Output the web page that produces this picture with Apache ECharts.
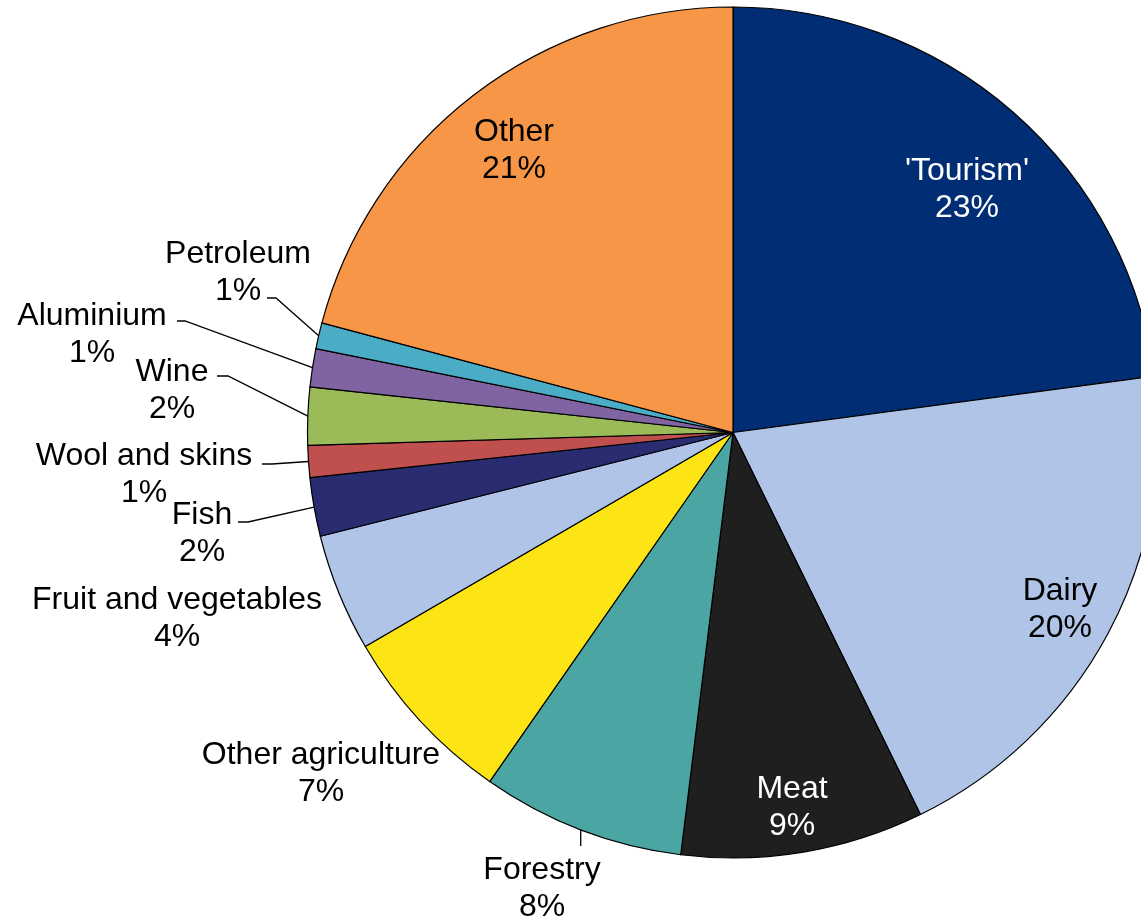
<!DOCTYPE html>
<html>
<head>
<meta charset="utf-8">
<script src="https://cdn.jsdelivr.net/npm/echarts@6/dist/echarts.min.js"></script>
<style>
html,body{margin:0;padding:0;background:#ffffff;}
#chart{width:1141px;height:920px;}
</style>
</head>
<body>
<div id="chart"></div>
<script>
// ---- data ----
const categories = ["'Tourism'", "Dairy", "Meat", "Forestry", "Other agriculture",
  "Fruit and vegetables", "Fish", "Wool and skins", "Wine", "Aluminium", "Petroleum", "Other"];
const shares = [22.88, 19.86, 9.22, 7.73, 6.92, 4.47, 2.23, 1.21, 2.19, 1.45, 0.99, 20.85];

// ---- styles ----
const sliceColors = ['#002D74', '#AFC4E7', '#1F1F1F', '#4BA5A3', '#FDE415',
  '#AFC4E7', '#292C71', '#C0504E', '#9BBB59', '#8064A2', '#4BACC6', '#F79646'];
const labelColors = ['#ffffff', '#000000', '#ffffff', '#000000', '#000000',
  '#000000', '#000000', '#000000', '#000000', '#000000', '#000000', '#000000'];
const insideLabel = [true, true, true, false, false, false, false, false, false, false, false, true];
const showLeader = [false, false, false, true, false, false, true, true, true, true, true, false];

// ---- layout (label text centres and leader-line bends, in px) ----
const CX = 733, CY = 432.5, R = 425.5;
const labelPlacement = [
  {x: 967, y: 190},
  {x: 1060, y: 610},
  {x: 792, y: 808},
  {x: 542, y: 889, vline: 846},
  {x: 321, y: 774},
  {x: 177, y: 619},
  {x: 202, y: 534, line: [[248, 522], [238, 522]]},
  {x: 144, y: 475, line: [[272, 464], [262, 464]]},
  {x: 172, y: 391, line: [[228, 376], [217, 376]]},
  {x: 92, y: 335, line: [[185, 321], [177, 321]]},
  {x: 238, y: 273, line: [[276, 298], [267, 298]]},
  {x: 514, y: 151}
];

const total = shares.reduce((a, b) => a + b, 0);
function edgePoint(i) {
  let cum = 0;
  for (let k = 0; k < i; k++) cum += shares[k];
  const mid = (cum + shares[i] / 2) / total * 2 * Math.PI;
  return [CX + R * Math.sin(mid), CY - R * Math.cos(mid)];
}

const FONT = "'Liberation Sans', Arial, Helvetica, sans-serif";

const pieData = categories.map((name, i) => ({
  name: name,
  value: shares[i],
  itemStyle: {color: sliceColors[i]},
  label: {
    position: insideLabel[i] ? 'inside' : 'outside',
    color: labelColors[i]
  },
  labelLine: {show: showLeader[i]}
}));

const chart = echarts.init(document.getElementById('chart'), null, {renderer: 'canvas'});
chart.setOption({
  animation: false,
  backgroundColor: '#ffffff',
  series: [{
    type: 'pie',
    center: [CX, CY],
    radius: R,
    startAngle: 90,
    clockwise: true,
    avoidLabelOverlap: false,
    silent: true,
    emphasis: {disabled: true},
    itemStyle: {borderColor: '#000000', borderWidth: 1.2},
    label: {
      show: true,
      fontFamily: FONT,
      fontSize: 32,
      lineHeight: 37,
      width: 420,
      overflow: 'none',
      align: 'center',
      formatter: p => p.name + '\n' + Math.round(p.percent) + '%'
    },
    labelLine: {
      show: true,
      length: 10,
      length2: 10,
      lineStyle: {color: '#000000', width: 1.3}
    },
    labelLayout: function (params) {
      const i = params.dataIndex;
      const pl = labelPlacement[i];
      const out = {x: pl.x, y: pl.y, align: 'center', verticalAlign: 'middle'};
      if (pl.line) {
        out.labelLinePoints = [edgePoint(i)].concat(pl.line);
      } else if (pl.vline) {
        const e = edgePoint(i);
        out.labelLinePoints = [e, [e[0], pl.vline]];
      }
      return out;
    },
    data: pieData
  }]
});
</script>
</body>
</html>
